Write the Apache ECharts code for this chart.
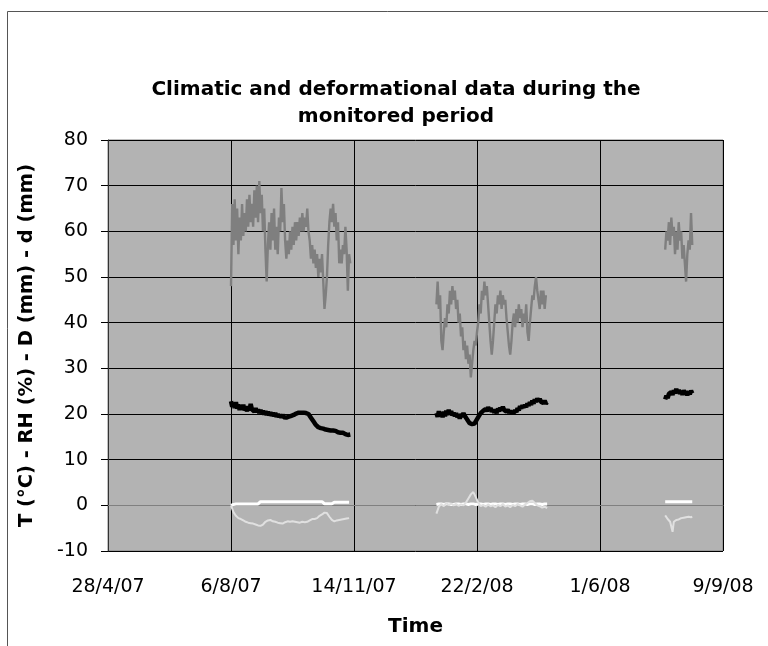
<!DOCTYPE html>
<html><head><meta charset="utf-8">
<script src="https://cdn.jsdelivr.net/npm/echarts@6/dist/echarts.min.js"></script>
<style>html,body{margin:0;padding:0;background:#fff}#c{width:768px;height:646px}</style>
</head><body><div id="c"></div>
<script>
// ---- tick labels ----
const xTickLabels = ['28/4/07', '6/8/07', '14/11/07', '22/2/08', '1/6/08', '9/9/08'];
const xAxisStart = '2007-04-28';
const xAxisEnd = '2008-09-09';

// ---- monitoring segments (start dates) ----
const segStart = ['2007-08-06', '2008-01-20', '2008-07-24'];

// ---- RH (%) daily readings ----
const rh1 = [48,66,57,67,58,65,55,63,58,66, 59,64,60,67,61,68,62,66,61,69,
  63,70,62,71,64,68,60,65,56,49, 57,62,56,64,58,65,56,61,55,63,
  60,69.5,62,66,58,54,58,55,60,56, 61,57,62,58,62,59,63,60,64,60,
  63,61,65,60,58,54,57,53,56,52, 55,50,54,51,55,49,43,46,50,57,
  62,65,62,66,61,64,58,62,53,56, 53,57,55,61,56,47,55,53];
const rh2 = [44,49,43,46,36,34,38,41,39,44, 42,47,44,48,45,47,43,45,40,42,
  37,39,34,36,32,35,31,33,28,31, 34,36,35,38,40,44,42,47,45,49,
  46,48,44,40,36,33,36,40,44,42, 46,44,47,43,46,44,45,41,38,35,
  33,36,40,42,39,43,40,44,41,43, 39,42,40,44,38,36,40,43,46,45,
  48,50,47,45,43,47,44,47,43,46];
const rh3 = [56,60,58,62,57,63,59,61,55,60,56,62,58,60,54,57,53,49,55,58,56,64,57];

// ---- T (°C) daily readings ----
const t1 = [22.8,21.6,22.4,21.3,22.6,21.2,22.1,20.9,21.8,21.0, 22.0,20.8,21.5,20.6,21.7,20.8,22.2,21.0,21.4,20.5,
  21.3,20.4,21.0,20.2,20.9,20.1,20.7,19.9,20.6,19.8, 20.5,19.7,20.4,19.6,20.3,19.5,20.2,19.4,20.0,19.3,
  19.9,19.2,19.8,19.3,19.7,19.2,19.6,19.4,19.8,19.6, 20.0,19.8,20.2,20.1,20.4,20.3,20.5,20.3,
  20.4,20.3,20.4,20.2,20.3,20.0,19.6,19.2,18.8,18.4, 18.0,17.6,17.3,17.1,17.0,16.9,17.0,16.8,16.9,
  16.6,16.7,16.5,16.6,16.4,16.3,16.4,16.2,16.3,16.1, 16.0,16.1,15.9,15.8,15.9,15.7,15.6,15.8,15.4,15.7,15.5];
const t2 = [20.2,19.4,20.6,19.6,20.3,19.3,20.5,19.5,20.7,19.8, 20.9,20.1,20.6,19.7,20.3,19.5,20.2,19.3,19.8,19.0,
  20.0,19.4,20.2,19.6,19.2,18.8,18.4,18.0,17.6,17.8, 17.4,17.9,18.4,18.8,19.3,19.6,20.2,19.9,20.7,20.3,
  21.1,20.6,21.5,20.8,21.3,20.5,21.0,20.3,20.9,20.2, 21.2,20.6,21.4,20.8,21.6,20.9,21.3,20.5,21.0,20.2,
  20.8,20.0,20.6,20.1,20.9,20.4,21.3,20.8,21.7,21.2, 21.9,21.4,22.0,21.5,22.3,21.8,22.6,22.0,22.9,22.3,
  23.2,22.6,23.4,22.8,23.3,22.7,23.1,22.4,22.9,22.3,22.6];
const t3 = [23.2,24.0,23.5,24.4,24.0,24.8,24.2,25.2,24.5,25.5,24.6,25.3,24.4,25.0,24.2,25.2,24.3,25.0,24.1,24.9,24.3,25.1,24.5];

// ---- D (mm), every 2 days in segments 1-2, daily in segment 3 ----
const D1 = [0,0.2,0.3,0.3,0.3,0.3,0.3,0.3,0.3,0.3,0.3,0.3,
  0.8,0.8,0.8,0.8,0.8,0.8,0.8,0.8,0.8,0.8,0.8,0.8,0.8,0.8,0.8,0.8,0.8,0.8,0.8,0.8,0.8,0.8,0.8,0.8,0.8,0.8,
  0.35,0.35,0.35,0.35, 0.7,0.7,0.7,0.7,0.7,0.7,0.7];
const D2 = [0.2,0.3,0.3,0.2,0.3,0.3,0.2,0.2,0.3,0.3,0.2,0.3,0.3,0.2,0.3,0.3,0.2,0.3,0.3,0.2,0.3,0.3,0.2,
  0.3,0.3,0.2,0.3,0.3,0.2,0.3,0.3,0.2,0.3,0.3,0.2,0.3,0.3,0.2,0.3,0.3,0.2,0.3,0.3,0.2,0.3,0.3];
const D3 = [0.8,0.8,0.8,0.8,0.8,0.8,0.8,0.8,0.8,0.8,0.8,0.8,0.8,0.8,0.8,0.8,0.8,0.8,0.8,0.8,0.8,0.8,0.8];

// ---- d (mm), every 2 days in segments 1-2, daily in segment 3 ----
const d1 = [0,-1.5,-2.3,-2.8,-3.0,-3.3,-3.6,-3.8,-3.9,-4.0, -4.2,-4.4,-4.5,-4.2,-3.6,-3.3,-3.2,-3.5,-3.6,-3.8,
  -3.9,-4.0,-3.7,-3.5,-3.6,-3.5,-3.6,-3.7,-3.8,-3.6, -3.7,-3.6,-3.3,-3.0,-3.0,-2.8,-2.3,-2.0,-1.6,-1.7,
  -2.5,-3.2,-3.5,-3.3,-3.2,-3.1,-3.0,-2.9,-2.8];
const d2 = [-1.8,-0.3,0.3,-0.2,0.5,0.1,0.4,0.0,0.3,-0.1, 0.2,0.0,0.6,1.5,2.4,2.9,1.8,0.6,-0.2,0.1,
  -0.3,0.2,-0.2,0.0,-0.4,0.1,-0.2,0.3,-0.3,0.0, -0.4,0.1,-0.2,0.3,0.0,-0.3,0.2,0.5,0.9,1.0,
  0.5,0.0,-0.2,-0.5,-0.3,-0.6];
const d3 = [-2.2,-2.6,-3.0,-3.4,-3.6,-3.8,-5.8,-3.6,-3.4,-3.2,-3.0,-3.1,-2.9,-2.8,-3.0,-2.7,-2.9,-2.6,-2.8,-2.5,-2.7,-2.6,-2.5];

// ---- helpers ----
function serial(iso) {
  const p = iso.split('-').map(Number);
  return (Date.UTC(p[0], p[1] - 1, p[2]) - Date.UTC(1899, 11, 30)) / 86400000;
}
function build(segs, steps) {
  const out = [];
  segs.forEach((vals, k) => {
    const s = serial(segStart[k]);
    vals.forEach((v, i) => out.push([s + i * steps[k], v]));
    out.push([s + vals.length * steps[k], '-']);
  });
  return out;
}
const xMin = serial(xAxisStart), xMax = serial(xAxisEnd);
const FONT = 'DejaVu Sans';

const chart = echarts.init(document.getElementById('c'), null, {renderer: 'canvas'});
chart.setOption({
  animation: false,
  backgroundColor: '#ffffff',
  title: {
    text: 'Climatic and deformational data during the\nmonitored period',
    left: 391, top: 71, textAlign: 'center',
    textStyle: {fontFamily: FONT, fontSize: 20, fontWeight: 'bold', color: '#000', lineHeight: 27}
  },
  graphic: [
    {type: 'line', shape: {x1: 7.5, y1: 11.5, x2: 768, y2: 11.5}, style: {stroke: '#555', lineWidth: 1}},
    {type: 'line', shape: {x1: 7.5, y1: 11.5, x2: 7.5, y2: 646}, style: {stroke: '#555', lineWidth: 1}}
  ],
  grid: {left: 108, right: 45, top: 140, bottom: 95, show: true,
    backgroundColor: '#b3b3b3', borderColor: '#808080', borderWidth: 1},
  xAxis: {
    type: 'value', min: xMin, max: xMax, interval: 100,
    name: 'Time', nameLocation: 'middle', nameGap: 66,
    nameTextStyle: {fontFamily: FONT, fontSize: 20, fontWeight: 'bold', color: '#000'},
    axisLine: {show: true, lineStyle: {color: '#808080', width: 1}},
    axisTick: {show: false},
    axisLabel: {fontFamily: FONT, fontSize: 19, color: '#000', margin: 27,
      formatter: v => xTickLabels[Math.round((v - xMin) / 100)] || ''},
    splitLine: {show: true, lineStyle: {color: '#000', width: 1}}
  },
  yAxis: {
    type: 'value', min: -10, max: 80, interval: 10,
    name: 'T (°C) - RH (%) - D (mm) - d (mm)', nameLocation: 'middle', nameGap: 71, nameRotate: 90,
    nameTextStyle: {fontFamily: FONT, fontSize: 19.5, fontWeight: 'bold', color: '#000'},
    axisLine: {show: true, lineStyle: {color: '#333', width: 1}},
    axisTick: {show: true, length: 7, lineStyle: {color: '#000'}},
    axisLabel: {fontFamily: FONT, fontSize: 19, color: '#000', margin: 20},
    splitLine: {show: true, lineStyle: {color: '#000', width: 1}}
  },
  series: [
    {name: 'RH', type: 'line', showSymbol: false, connectNulls: false,
      lineStyle: {color: '#7f7f7f', width: 2.4}, itemStyle: {color: '#7f7f7f'},
      data: build([rh1, rh2, rh3], [1, 1, 1])},
    {name: 'T', type: 'line', showSymbol: false, connectNulls: false,
      lineStyle: {color: '#000', width: 4.5}, itemStyle: {color: '#000'},
      data: build([t1, t2, t3], [1, 1, 1])},
    {name: 'D', type: 'line', showSymbol: false, connectNulls: false,
      lineStyle: {color: '#ffffff', width: 3}, itemStyle: {color: '#fff'},
      data: build([D1, D2, D3], [2, 2, 1])},
    {name: 'd', type: 'line', showSymbol: false, connectNulls: false,
      lineStyle: {color: '#e0e0e0', width: 2}, itemStyle: {color: '#e0e0e0'},
      data: build([d1, d2, d3], [2, 2, 1])}
  ]
});
</script></body></html>
